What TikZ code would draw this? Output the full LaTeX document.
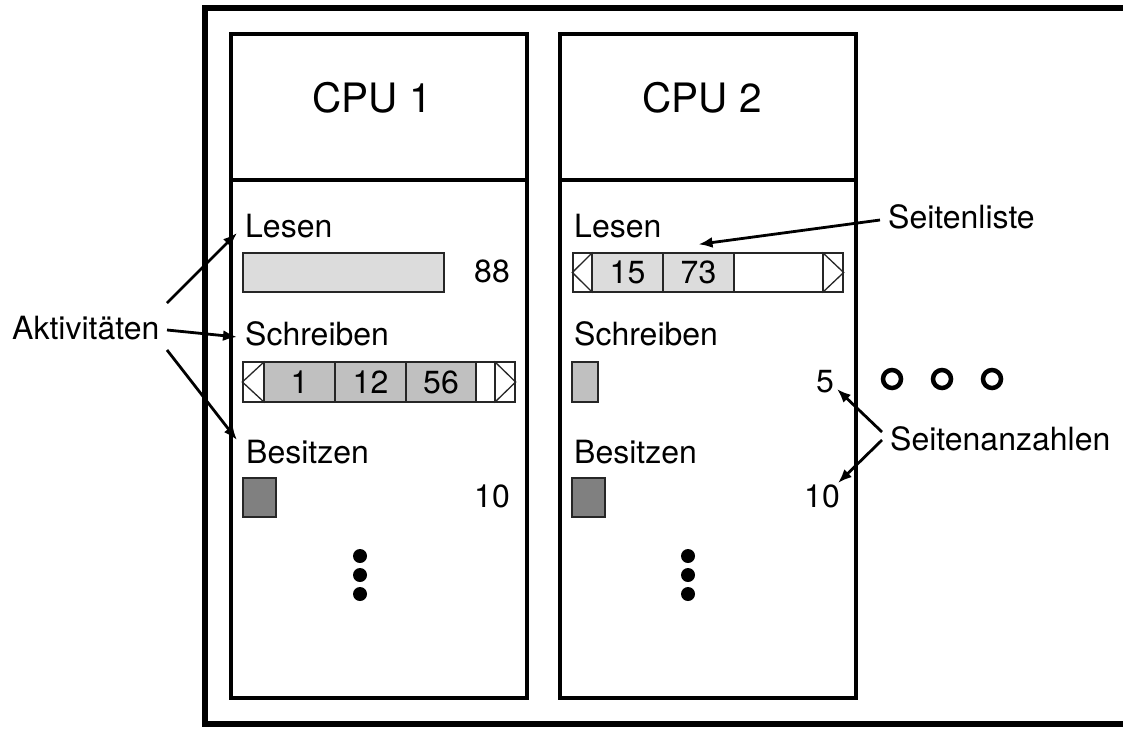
\documentclass[tikz,border=0pt]{standalone}
\usepackage{fontspec}
\setmainfont{TeX Gyre Heros}
\usetikzlibrary{arrows.meta}
\definecolor{lgray}{HTML}{DCDCDC}
\definecolor{mgray}{HTML}{C0C0C0}
\definecolor{dgray}{HTML}{808080}
\begin{document}
\begin{tikzpicture}[x=1pt,y=-1pt,
  lbl/.style={font=\fontsize{32}{38}\selectfont, inner sep=0pt, anchor=base west},
  num/.style={font=\fontsize{32}{38}\selectfont, inner sep=0pt, anchor=base east},
  cputitle/.style={font=\fontsize{40.5}{48}\selectfont, inner sep=0pt, anchor=base},
  frameline/.style={line width=5.5pt},
  cpubox/.style={draw, line width=4pt, inner sep=0pt, minimum width=296pt, minimum height=664pt},
  cell/.style={draw=black!85, line width=1.3pt, inner sep=0pt, minimum height=40pt,
               font=\fontsize{32}{38}\selectfont},
  arr/.style={line width=2.8pt, -{Latex[length=14pt,width=11pt]}},
  dot/.style={circle, fill=black, inner sep=0pt, minimum size=14pt},
  ring/.style={circle, draw, line width=4.5pt, inner sep=0pt, minimum size=18pt}
]
\useasboundingbox (0,0) rectangle (1123,728);

% outer frame (open at the right)
\draw[frameline] (1123,8) -- (205,8) -- (205,724) -- (1123,724);

% CPU boxes
\node[cpubox] (box1) at (379,366) {};
\node[cpubox] (box2) at (708,366) {};
\draw[line width=4pt] (box1.west |- 0,180) -- (box1.east |- 0,180);
\draw[line width=4pt] (box2.west |- 0,180) -- (box2.east |- 0,180);
\node[cputitle] (cpu1) at (372,112) {CPU 1};
\node[cputitle] (cpu2) at (702,112) {CPU 2};

% ---- CPU 1 ----
\node[lbl] (les1) at (245,237) {Lesen};
\node[cell, fill=lgray, minimum width=201pt, minimum height=39pt] (bar1) at (343.5,272.5) {};
\node[num] (n88) at (510,282) {88};

\node[lbl] (schr1) at (245,345) {Schreiben};
\node[cell, fill=white, minimum width=21pt] (lt1) at (253.5,382) {};
\draw[black!85, line width=1.3pt] (lt1.north east) -- (lt1.west) -- (lt1.south east);
\node[cell, fill=mgray, minimum width=71pt] (c1) at (299.5,382) {1};
\node[cell, fill=mgray, minimum width=71pt] (c12) at (370.5,382) {12};
\node[cell, fill=mgray, minimum width=70pt] (c56) at (441,382) {56};
\node[cell, fill=white, minimum width=19pt] (w1) at (485.5,382) {};
\node[cell, fill=white, minimum width=20pt] (rt1) at (505,382) {};
\draw[black!85, line width=1.3pt] (rt1.north west) -- (rt1.east) -- (rt1.south west);

\node[lbl] (bes1) at (246,463) {Besitzen};
\node[cell, fill=dgray, minimum width=33pt, minimum height=39pt] (own1) at (259.5,497.5) {};
\node[num] (n10a) at (510,507) {10};

\node[dot] (d11) at (360,556) {};
\node[dot] (d12) at (360,575) {};
\node[dot] (d13) at (360,594) {};

% ---- CPU 2 ----
\node[lbl] (les2) at (574,237) {Lesen};
\node[cell, fill=white, minimum width=19pt, minimum height=39pt] (lt2) at (582.5,272.5) {};
\draw[black!85, line width=1.3pt] (lt2.north east) -- (lt2.west) -- (lt2.south east);
\node[cell, fill=lgray, minimum width=71pt, minimum height=39pt] (c15) at (627.5,272.5) {15};
\node[cell, fill=lgray, minimum width=71pt, minimum height=39pt] (c73) at (698.5,272.5) {73};
\node[cell, fill=white, minimum width=89pt, minimum height=39pt] (w2) at (778.5,272.5) {};
\node[cell, fill=white, minimum width=20pt, minimum height=39pt] (rt2) at (833,272.5) {};
\draw[black!85, line width=1.3pt] (rt2.north west) -- (rt2.east) -- (rt2.south west);

\node[lbl] (schr2) at (574,345) {Schreiben};
\node[cell, fill=mgray, minimum width=26pt] (wr2) at (585,382) {};
\node[num] (n5) at (834,392) {5};

\node[lbl] (bes2) at (574,463) {Besitzen};
\node[cell, fill=dgray, minimum width=33pt, minimum height=39pt] (own2) at (588.5,497.5) {};
\node[num] (n10b) at (840,507) {10};

\node[dot] (d21) at (688,556) {};
\node[dot] (d22) at (688,575) {};
\node[dot] (d23) at (688,594) {};

% ---- more CPUs ----
\node[ring] (o1) at (892,379) {};
\node[ring] (o2) at (942,379) {};
\node[ring] (o3) at (992,379) {};

% ---- annotations ----
\node[lbl] (akt) at (12,339) {Aktivitäten};
\coordinate (akt1) at (167,303);
\coordinate (akt2) at (167,330);
\coordinate (akt3) at (167,350);
\draw[arr] (akt1) -- ([shift={(-8pt,4pt)}]les1.base west);
\draw[arr] (akt2) -- ([shift={(-8pt,8pt)}]schr1.base west);
\draw[arr] (akt3) -- ([shift={(-9pt,23pt)}]bes1.base west);

\node[lbl] (sl) at (888,228) {Seitenliste};
\draw[arr] ([shift={(-8pt,8pt)}]sl.base west) -- ([yshift=8pt]c73.north);

\node[lbl] (sa) at (890,450) {Seitenanzahlen};
\draw[arr] ([shift={(-8pt,18pt)}]sa.base west) -- ([shift={(3pt,3pt)}]n5.base east);
\draw[arr] ([shift={(-8pt,10pt)}]sa.base west) -- ([shift={(-2pt,24pt)}]n10b.base east);
\end{tikzpicture}
\end{document}
